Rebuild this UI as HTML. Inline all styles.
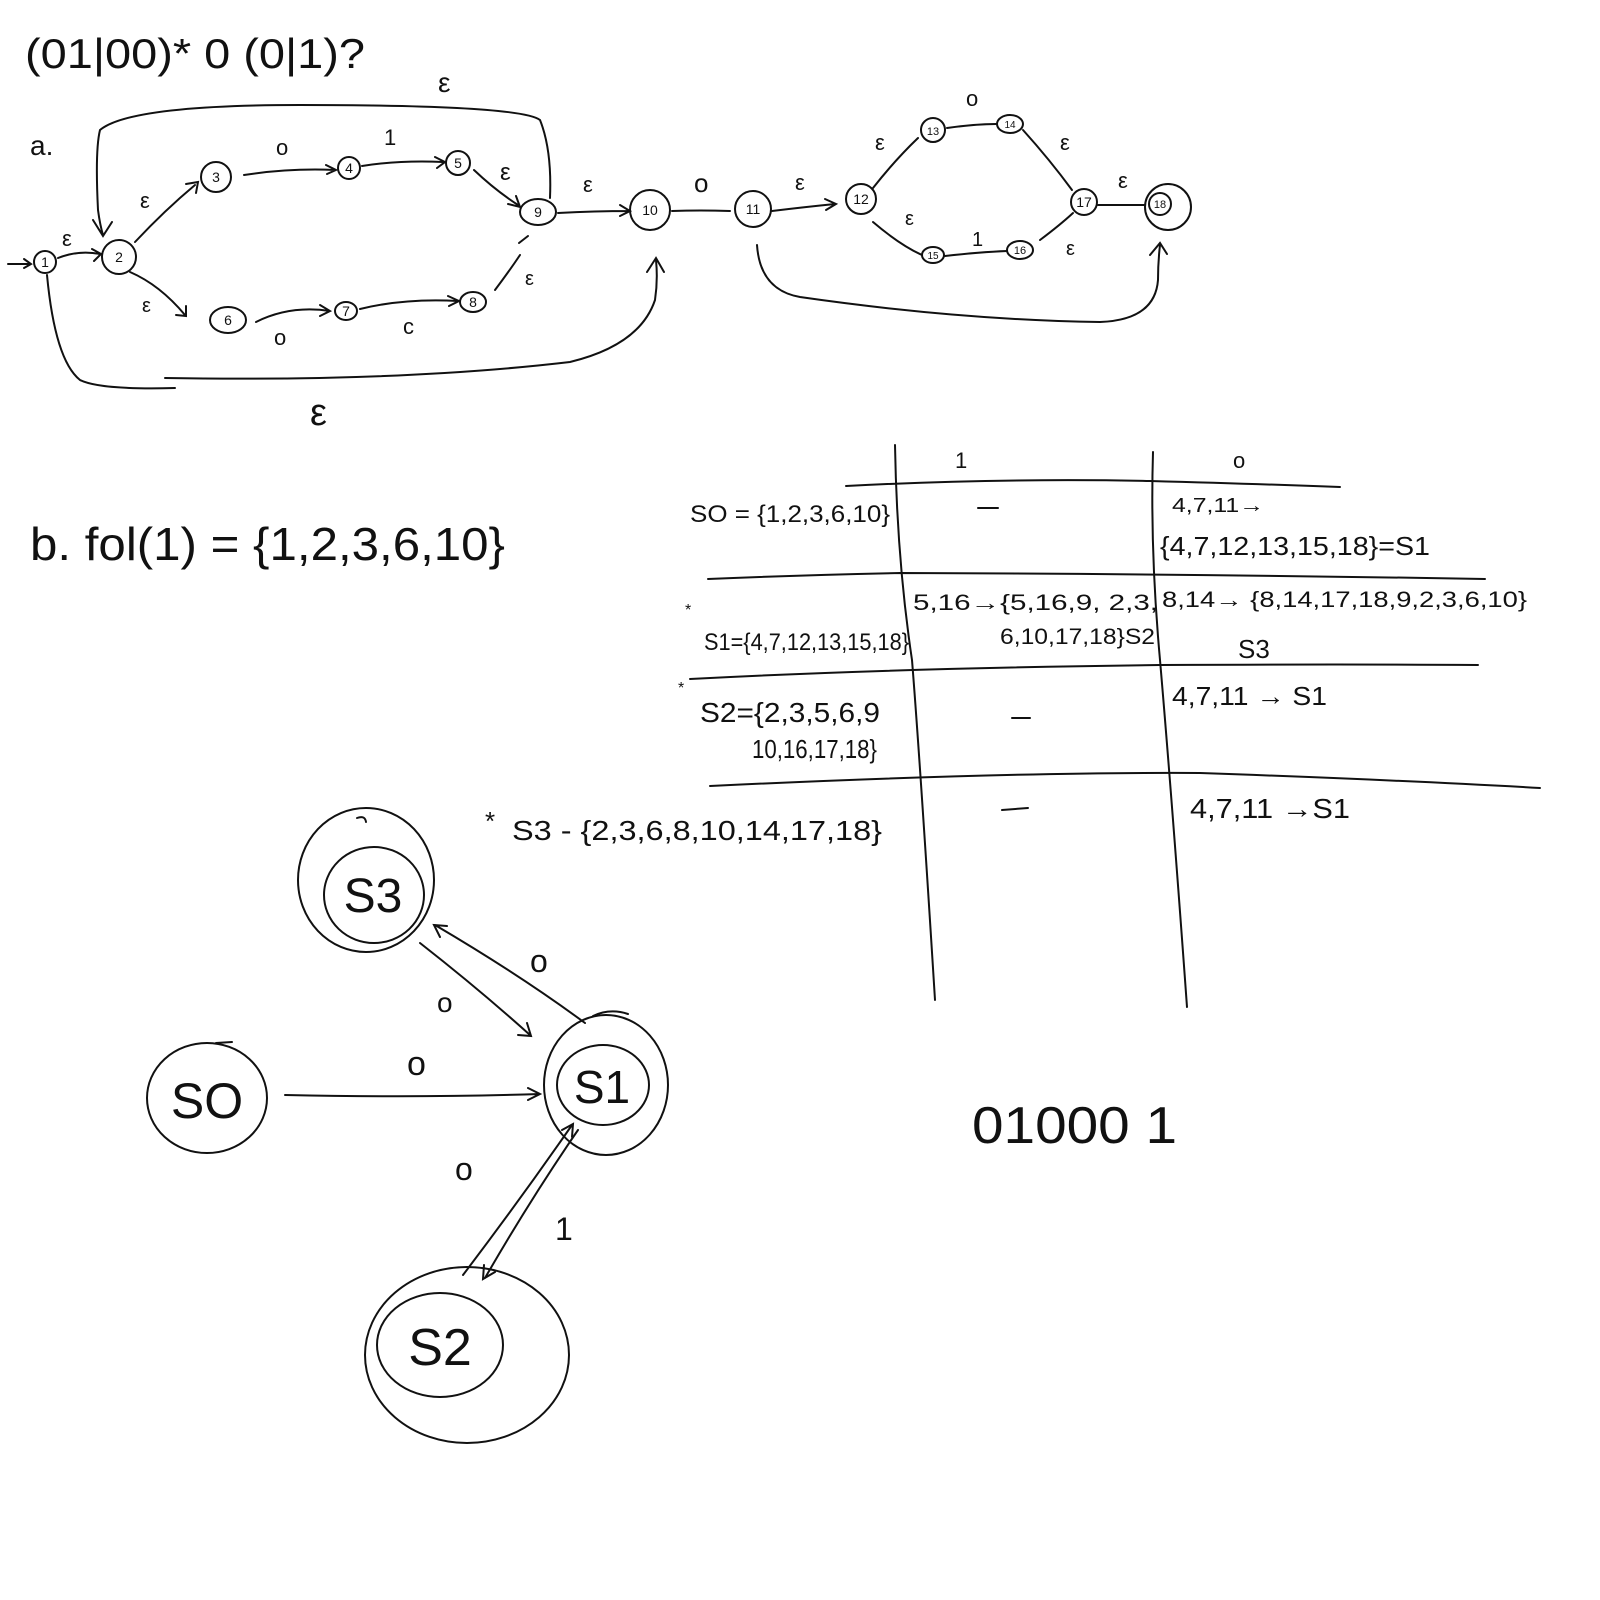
<!DOCTYPE html>
<html><head><meta charset="utf-8"><style>
html,body{margin:0;padding:0;background:#fff;}
svg{display:block;}
text{font-family:"Liberation Sans Narrow","Liberation Sans",sans-serif;fill:#111;}
</style></head><body>
<svg width="1600" height="1600" viewBox="0 0 1600 1600" xmlns="http://www.w3.org/2000/svg">
<g fill="none" stroke="#111" stroke-width="2" stroke-linecap="round">
<!-- NFA nodes -->
<circle cx="45" cy="262" r="11"/>
<circle cx="119" cy="257" r="17"/>
<circle cx="216" cy="177" r="15"/>
<circle cx="349" cy="168" r="11"/>
<circle cx="458" cy="163" r="12"/>
<ellipse cx="538" cy="212" rx="18" ry="13"/>
<circle cx="650" cy="210" r="20"/>
<circle cx="753" cy="209" r="18"/>
<circle cx="861" cy="199" r="15"/>
<circle cx="933" cy="130" r="12"/>
<ellipse cx="1010" cy="124" rx="13" ry="9"/>
<circle cx="1084" cy="202" r="13"/>
<circle cx="1168" cy="207" r="23"/>
<circle cx="1160" cy="204" r="11"/>
<ellipse cx="933" cy="255" rx="11" ry="8"/>
<ellipse cx="1020" cy="250" rx="13" ry="9"/>
<ellipse cx="228" cy="320" rx="18" ry="13"/>
<ellipse cx="346" cy="311" rx="11" ry="9"/>
<ellipse cx="473" cy="302" rx="13" ry="10"/>
<!-- NFA edges -->
<path d="M8 264 L30 264 M24 259 L31 264 L24 268"/>
<path d="M58 258 Q78 250 100 254 M92 249 L101 254 L94 261"/>
<path d="M135 242 Q165 210 195 185 M186 184 L198 182 L196 193"/>
<path d="M244 175 Q290 168 335 170 M326 165 L336 170 L327 174"/>
<path d="M362 166 Q400 160 443 162 M435 157 L445 162 L437 168"/>
<path d="M474 170 Q495 190 518 205 M508 204 L520 207 L516 196"/>
<path d="M558 213 Q595 211 630 211 M620 205 L630 211 L620 216"/>
<path d="M672 211 Q700 210 730 211"/>
<path d="M772 211 Q805 207 835 204 M825 199 L836 204 L826 210"/>
<path d="M873 188 Q895 160 918 138"/>
<path d="M947 128 Q975 124 996 124"/>
<path d="M1023 130 Q1050 160 1072 190"/>
<path d="M1098 205 Q1125 205 1145 205"/>
<path d="M873 222 Q900 245 922 255"/>
<path d="M945 256 Q980 252 1007 251"/>
<path d="M1040 240 Q1060 225 1073 213"/>
<path d="M130 272 Q160 285 185 315 M176 315 L186 316 L186 306"/>
<path d="M256 322 Q290 305 330 311 M320 305 L330 311 L320 316"/>
<path d="M360 309 Q405 298 458 301 M448 296 L459 301 L449 306"/>
<path d="M495 290 Q510 270 520 255"/>
<path d="M519 243 L528 236"/>
<!-- top epsilon loop 9 -> 2 -->
<path d="M550 198 Q552 150 540 120 Q520 105 300 105 Q130 105 100 130 Q95 150 98 210 Q100 225 103 235 M93 220 L103 236 L112 222"/>
<!-- bottom loop 1 -> 10 -->
<path d="M47 275 Q55 360 80 380 Q100 390 175 388"/>
<path d="M165 378 Q400 382 570 362 Q640 345 655 300 Q658 280 656 260 M647 272 L656 258 L664 272"/>
<!-- bottom loop 11 -> 18 -->
<path d="M757 245 Q760 290 800 297 Q960 320 1100 322 Q1155 320 1158 280 Q1158 262 1160 245 M1150 255 L1160 243 L1167 254"/>
<!-- table -->
<path d="M846 486 Q1000 478 1150 481 Q1260 484 1340 487"/>
<path d="M708 579 Q800 575 900 573 Q1200 574 1485 579"/>
<path d="M690 679 Q900 668 1160 665 Q1350 664 1478 665"/>
<path d="M710 786 Q1000 772 1200 773 Q1400 780 1540 788"/>
<path d="M895 445 Q897 560 912 660 Q920 760 935 1000"/>
<path d="M1153 452 Q1150 550 1160 660 Q1172 800 1187 1007"/>
<path d="M978 508 L998 508"/>
<path d="M1012 718 L1030 718"/>
<path d="M1002 810 L1028 808"/>
<!-- DFA -->
<ellipse cx="366" cy="880" rx="68" ry="72"/>
<ellipse cx="374" cy="895" rx="50" ry="48"/>
<ellipse cx="207" cy="1098" rx="60" ry="55"/>
<ellipse cx="606" cy="1085" rx="62" ry="70"/>
<ellipse cx="603" cy="1085" rx="46" ry="40"/>
<ellipse cx="467" cy="1355" rx="102" ry="88"/>
<ellipse cx="440" cy="1345" rx="63" ry="52"/>
<path d="M285 1095 Q420 1098 540 1094 M528 1088 L540 1094 L528 1100"/>
<path d="M420 943 Q480 990 530 1035 M518 1035 L531 1036 L527 1023"/>
<path d="M585 1023 Q520 975 435 925 M447 926 L434 925 L440 937"/>
<path d="M463 1275 Q520 1200 572 1125 M562 1130 L573 1124 L572 1137"/>
<path d="M578 1130 Q530 1200 485 1278 M484 1265 L483 1279 L495 1272"/>
<path d="M357 818 Q365 815 366 822"/>
<path d="M216 1043 L232 1042"/>
<path d="M593 1016 Q610 1008 628 1014"/>
</g>
<!-- text -->
<text x="25" y="68" font-size="42" textLength="340" lengthAdjust="spacingAndGlyphs">(01|00)* 0 (0|1)?</text>
<text x="438" y="92" font-size="28">ε</text>
<text x="30" y="155" font-size="28">a.</text>
<text x="62" y="246" font-size="22">ε</text>
<text x="140" y="208" font-size="22">ε</text>
<text x="276" y="155" font-size="22">o</text>
<text x="384" y="145" font-size="22">1</text>
<text x="500" y="180" font-size="24">ε</text>
<text x="583" y="192" font-size="22">ε</text>
<text x="694" y="192" font-size="26">o</text>
<text x="795" y="190" font-size="22">ε</text>
<text x="875" y="150" font-size="22">ε</text>
<text x="966" y="106" font-size="22">o</text>
<text x="1060" y="150" font-size="22">ε</text>
<text x="1118" y="188" font-size="22">ε</text>
<text x="905" y="225" font-size="20">ε</text>
<text x="972" y="246" font-size="20">1</text>
<text x="1066" y="255" font-size="20">ε</text>
<text x="142" y="312" font-size="20">ε</text>
<text x="274" y="345" font-size="22">o</text>
<text x="403" y="334" font-size="22">c</text>
<text x="525" y="285" font-size="20">ε</text>
<text x="310" y="425" font-size="38">ε</text>
<g font-size="14" text-anchor="middle">
<text x="45" y="267">1</text><text x="119" y="262">2</text><text x="216" y="182">3</text>
<text x="349" y="173">4</text><text x="458" y="168">5</text><text x="538" y="217">9</text>
<text x="650" y="215">10</text><text x="753" y="214">11</text><text x="861" y="204">12</text>
<text x="933" y="135" font-size="11">13</text><text x="1010" y="128" font-size="10">14</text>
<text x="1084" y="207">17</text><text x="1160" y="208" font-size="11">18</text>
<text x="933" y="259" font-size="10">15</text><text x="1020" y="254" font-size="11">16</text>
<text x="228" y="325">6</text><text x="346" y="316">7</text><text x="473" y="307">8</text>
</g>
<text x="30" y="560" font-size="46" textLength="475" lengthAdjust="spacingAndGlyphs">b. fol(1) = {1,2,3,6,10}</text>
<text x="955" y="468" font-size="22">1</text>
<text x="1233" y="468" font-size="22">o</text>
<text x="690" y="522" font-size="24" textLength="200" lengthAdjust="spacingAndGlyphs">SO = {1,2,3,6,10}</text>
<text x="1172" y="512" font-size="20" textLength="92" lengthAdjust="spacingAndGlyphs">4,7,11→</text>
<text x="1160" y="555" font-size="26" textLength="270" lengthAdjust="spacingAndGlyphs">{4,7,12,13,15,18}=S1</text>
<text x="685" y="615" font-size="16">*</text>
<text x="704" y="650" font-size="24" textLength="205" lengthAdjust="spacingAndGlyphs">S1={4,7,12,13,15,18}</text>
<text x="913" y="610" font-size="22" textLength="245" lengthAdjust="spacingAndGlyphs">5,16→{5,16,9, 2,3,</text>
<text x="1000" y="644" font-size="22" textLength="155" lengthAdjust="spacingAndGlyphs">6,10,17,18}S2</text>
<text x="1162" y="607" font-size="22" textLength="365" lengthAdjust="spacingAndGlyphs">8,14→ {8,14,17,18,9,2,3,6,10}</text>
<text x="1238" y="658" font-size="26">S3</text>
<text x="678" y="693" font-size="16">*</text>
<text x="700" y="722" font-size="28" textLength="180" lengthAdjust="spacingAndGlyphs">S2={2,3,5,6,9</text>
<text x="752" y="758" font-size="26" textLength="125" lengthAdjust="spacingAndGlyphs">10,16,17,18}</text>
<text x="1172" y="705" font-size="26" textLength="155" lengthAdjust="spacingAndGlyphs">4,7,11 → S1</text>
<text x="485" y="830" font-size="26">*</text>
<text x="512" y="840" font-size="28" textLength="370" lengthAdjust="spacingAndGlyphs">S3 - {2,3,6,8,10,14,17,18}</text>
<text x="1190" y="818" font-size="28" textLength="160" lengthAdjust="spacingAndGlyphs">4,7,11 →S1</text>
<text x="373" y="912" font-size="48" text-anchor="middle">S3</text>
<text x="207" y="1118" font-size="50" text-anchor="middle">SO</text>
<text x="602" y="1103" font-size="46" text-anchor="middle">S1</text>
<text x="440" y="1365" font-size="52" text-anchor="middle">S2</text>
<text x="530" y="972" font-size="32">o</text>
<text x="437" y="1012" font-size="28">o</text>
<text x="407" y="1075" font-size="34">o</text>
<text x="455" y="1180" font-size="32">o</text>
<text x="555" y="1240" font-size="32">1</text>
<text x="972" y="1143" font-size="52" textLength="205" lengthAdjust="spacingAndGlyphs">01000 1</text>
</svg>
</body></html>
